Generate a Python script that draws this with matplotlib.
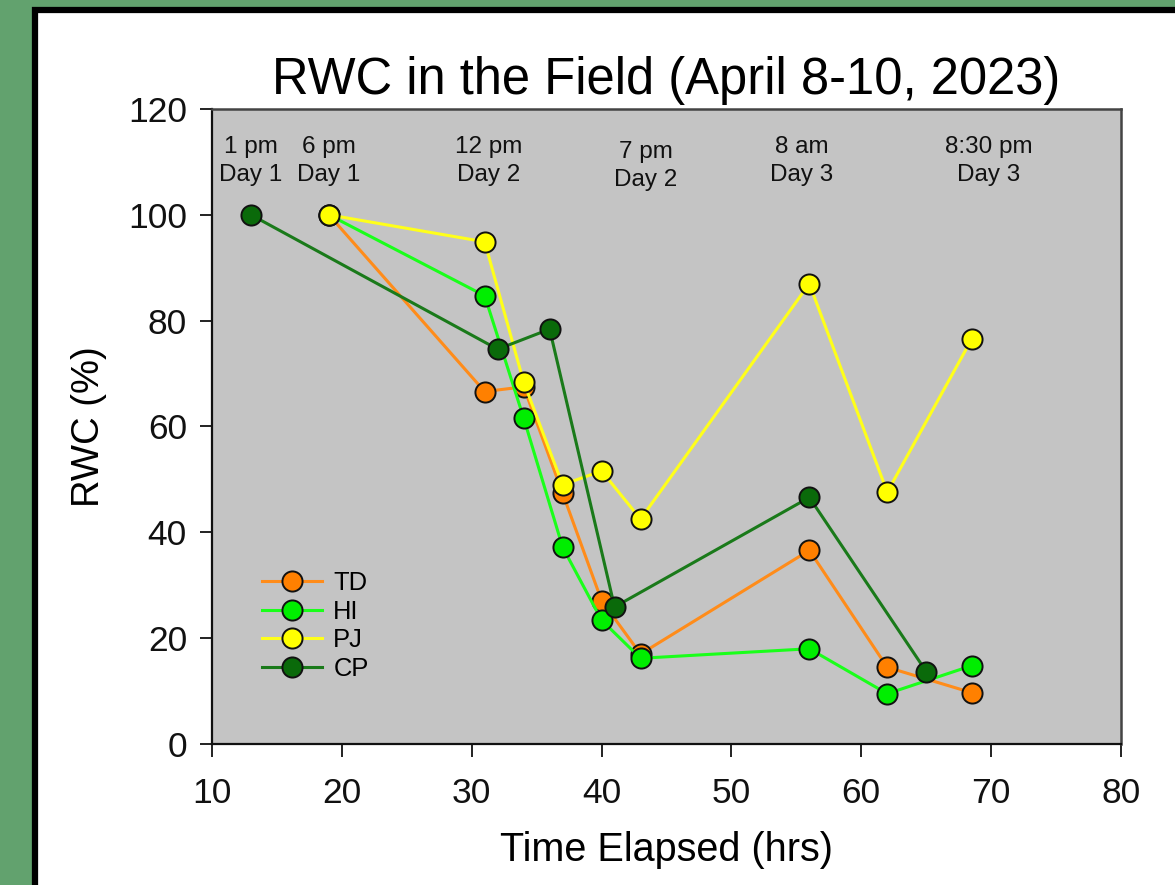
import matplotlib
matplotlib.use("Agg")
import matplotlib.pyplot as plt
from matplotlib.patches import Rectangle

plt.rcParams['font.family'] = ['Liberation Sans', 'DejaVu Sans']

# Relative water content (%) versus hours elapsed
td_hours = [19, 31, 34, 37, 40, 43, 56, 62, 68.5]
td_rwc = [100, 66.6, 67.5, 47.4, 27.1, 17.0, 36.6, 14.5, 9.7]

hi_hours = [19, 31, 34, 37, 40, 43, 56, 62, 68.5]
hi_rwc = [100, 84.7, 61.6, 37.2, 23.4, 16.2, 18.0, 9.5, 14.8]

pj_hours = [19, 31, 34, 37, 40, 43, 56, 62, 68.5]
pj_rwc = [100, 94.9, 68.4, 49.0, 51.6, 42.5, 87.0, 47.6, 76.5]

cp_hours = [13, 32, 36, 41, 56, 65]
cp_rwc = [100, 74.6, 78.4, 25.9, 46.6, 13.7]

series_names = ["TD", "HI", "PJ", "CP"]
line_colors = ["#ff8c1a", "#1aff1a", "#ffff1a", "#1a7a1a"]
face_colors = ["#ff8000", "#00ee00", "#ffff00", "#0a6a0a"]

# Sampling-time annotations
time_marks = [13, 19, 31.3, 43.4, 55.4, 69.8]
time_labels = ["1 pm\nDay 1", "6 pm\nDay 1", "12 pm\nDay 2", "7 pm\nDay 2",
               "8 am\nDay 3", "8:30 pm\nDay 3"]
time_label_y = [110.2, 110.2, 110.2, 109.2, 110.2, 110.2]

x_ticks = [10, 20, 30, 40, 50, 60, 70, 80]
y_ticks = [0, 20, 40, 60, 80, 100, 120]

fig = plt.figure(figsize=(11.75, 8.85), dpi=100)
fig.patch.set_facecolor("#62a26e")

# white panel with black frame, kept behind the axes
frame = Rectangle((35 / 1175, -0.1), 1.2, 1 - 10 / 885 + 0.1,
                  transform=fig.transFigure, facecolor="white",
                  edgecolor="black", linewidth=4.5, zorder=-10)
fig.add_artist(frame)

ax = fig.add_axes([212 / 1175, 1 - 744 / 885, 909 / 1175, 635 / 885])
ax.set_zorder(1)
ax.set_facecolor("#c4c4c4")

xs = [td_hours, hi_hours, pj_hours, cp_hours]
ys = [td_rwc, hi_rwc, pj_rwc, cp_rwc]
for name, x, y, lc, fc in zip(series_names, xs, ys, line_colors, face_colors):
    ax.plot(x, y, color=lc, linewidth=2.2, marker="o", markersize=14.5,
            markerfacecolor=fc, markeredgecolor="#111111",
            markeredgewidth=1.4, label=name)

for xm, lab, yl in zip(time_marks, time_labels, time_label_y):
    ax.text(xm, yl, lab, ha="center", va="center", fontsize=17.5,
            linespacing=1.33, color="#111111")

ax.set_xlim(10, 80)
ax.set_ylim(0, 120)
ax.set_xticks(x_ticks)
ax.set_yticks(y_ticks)
ax.tick_params(axis="both", direction="out", length=9, width=1.3,
               labelsize=25.5, colors="#111111")
ax.tick_params(axis="x", pad=15)
ax.tick_params(axis="y", pad=9)
for side in ["left", "bottom"]:
    ax.spines[side].set_linewidth(1.6)
    ax.spines[side].set_color("#111111")
for side in ["top", "right"]:
    ax.spines[side].set_linewidth(1.8)
    ax.spines[side].set_color("#444444")

ax.set_xlabel("Time Elapsed (hrs)", fontsize=28.5, labelpad=15)
ax.set_ylabel("RWC (%)", fontsize=27.5, labelpad=15)
ax.set_title("RWC in the Field (April 8-10, 2023)", fontsize=36.5, pad=11)

leg = ax.legend(loc="lower left", bbox_to_anchor=(0.035, 0.071), frameon=False,
                fontsize=18.4, handlelength=2.35, handletextpad=0.45,
                labelspacing=0.18, borderpad=0.2)

fig.savefig("out.png", dpi=100, facecolor=fig.get_facecolor())
